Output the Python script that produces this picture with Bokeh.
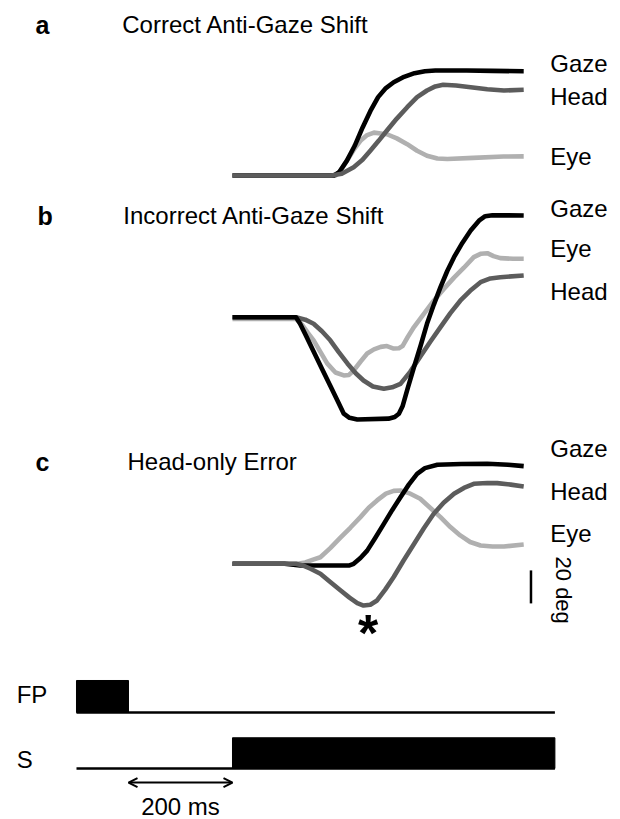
import math
from bokeh.plotting import figure
from bokeh.layouts import column
from bokeh.models import Range1d, Arrow, OpenHead, Label
from bokeh.embed import file_html
from bokeh.resources import INLINE

# ---------------- data (time in ms, angle in deg) ----------------
a_t_gaze = [200, 395, 405, 420, 435, 450, 465, 480, 495, 510, 530, 550, 570, 590, 650, 700, 760]
a_gaze = [0, 0, 2, 9, 18, 29, 39, 47.5, 53, 56.5, 59.8, 62, 63.2, 63.6, 63.6, 63.4, 63.2]
a_t_head = [200, 390, 410, 433, 450, 465, 481, 497, 516, 536, 555, 574, 590, 605, 630, 658, 690, 722, 760]
a_head = [0, 0, 1, 5, 9.5, 15, 21, 27.3, 34.5, 41.4, 47.5, 51.5, 54, 55, 54.5, 53.5, 52.3, 51.5, 52]
a_t_eye = [200, 398, 408, 420, 433, 446, 459, 472, 485, 497, 516, 536, 555, 574, 594, 613, 663, 721, 760]
a_eye = [0, 0, 3, 9, 15.5, 21, 24.5, 26, 25.5, 25, 22.5, 19, 15, 12, 10.3, 10, 10.7, 11.5, 11.6]

b_t_gaze = [200, 322, 330, 340, 356, 372, 388, 402, 414, 425, 440, 500, 512, 520, 527, 537, 549, 562,
            574, 587, 600, 613, 626, 642, 658, 674, 686, 700, 760]
b_gaze = [0, 0, -3.9, -10.4, -20.8, -31.2, -41.6, -50.7, -58.5, -61, -62, -61.5, -60.5, -58.5, -54, -43,
          -30.3, -17, -4, 7.5, 18.2, 28, 36.4, 45, 52.5, 58.5, 61.2, 61.8, 61.6]
b_t_eye = [200, 322, 335, 345, 356, 369, 382, 398, 414, 424, 433, 446, 459, 472, 485, 497, 510, 520, 527,
           537, 549, 568, 587, 606, 626, 645, 664, 678, 690, 702, 715, 740, 760]
b_eye = [-1, -1, -5, -9.5, -14, -21, -28, -33.5, -35.3, -35, -32.3, -27, -22, -19.5, -18, -17.5, -19, -18.8,
         -17.5, -12, -6, 2, 10, 17, 24, 30, 36.4, 38.5, 38.8, 37, 35.8, 35.4, 35.4]
b_t_head = [200, 322, 340, 356, 372, 388, 404, 421, 437, 452, 470, 491, 507, 523, 542, 561, 580, 600, 619,
            638, 657, 677, 696, 715, 760]
b_head = [0, 0, -1.5, -4, -8.5, -14, -21, -28, -34, -38.4, -42, -43.4, -42.5, -40.4, -33, -24, -15, -6, 2.5,
          10, 16, 21.2, 23.5, 24.2, 25.3]

c_t_gaze = [200, 300, 330, 425, 433, 446, 459, 475, 491, 507, 523, 539, 555, 570, 594, 640, 690, 730, 760]
c_gaze = [0, 0, -1, -1, 0, 3.5, 8, 16, 24.2, 32.5, 40.4, 48, 54.5, 58, 60, 60.5, 60.6, 60, 59.2]
c_t_eye = [200, 325, 340, 355, 369, 388, 408, 427, 446, 462, 478, 495, 510, 523, 542, 561, 580, 600, 619,
           638, 657, 677, 700, 722, 760]
c_eye = [0, 0, 0.8, 2.5, 4, 9.5, 16, 22, 28.3, 34, 38.4, 42.5, 44.2, 44.4, 42.5, 39.4, 34, 28.3, 22.3,
         17.2, 13.2, 11.1, 10.5, 10.5, 11.7]
c_t_head = [200, 322, 335, 350, 369, 388, 408, 425, 440, 452, 465, 478, 494, 510, 529, 549, 568, 587, 606,
            626, 645, 664, 690, 709, 735, 760]
c_head = [0, 0, -1, -3, -6, -11, -16.2, -20.5, -23.8, -25.3, -24.8, -22.2, -15.5, -8, 2, 12, 21.5, 30.3, 37,
          42.4, 46, 48.5, 49, 48.9, 48, 46.9]

# scale bar (deg) and the head-only error marker
scale_deg = 20
error_t = 461

# timeline events (ms)
trial_start, trial_end = -100, 820
fp_on = (-100, 0)
s_on = (200, 820)
gap_ms = (0, 200)

# ---------------- styling ----------------
FONT = "Liberation Sans"
C_GAZE, C_HEAD, C_EYE = "#000000", "#5c5c5c", "#b0b0b0"
LW = 4.6
TXT = "24px"

xr = Range1d(-246.15, 946.15)


def panel(h, y0, y1):
    p = figure(width=620, height=h, x_range=xr, y_range=Range1d(y0, y1),
               output_backend="svg", toolbar_location=None,
               x_axis_type=None, y_axis_type=None, min_border=0)
    p.grid.visible = False
    p.outline_line_color = None
    p.background_fill_color = "white"
    p.border_fill_color = "white"
    return p


def label(p, x, y, text, size=TXT, bold=False, align="left", baseline="middle", angle=0.0):
    p.add_layout(Label(x=x, y=y, text=text, text_font=FONT, text_font_size=size,
                       text_font_style="bold" if bold else "normal", text_color="black",
                       text_align=align, text_baseline=baseline, angle=angle))


def traces(p, order):
    for t, v, c in order:
        p.line(t, v, line_color=c, line_width=LW, line_join="round")


LX = 811  # label column (ms)

# panel a
pa = panel(190, -9.09, 106.06)
traces(pa, [(a_t_eye, a_eye, C_EYE), (a_t_gaze, a_gaze, C_GAZE), (a_t_head, a_head, C_HEAD)])
label(pa, -179, 91.3, "a", size="25px", bold=True)
label(pa, -12, 91.3, "Correct Anti-Gaze Shift")
label(pa, LX, 67.6, "Gaze")
label(pa, LX, 47.6, "Head")
label(pa, LX, 11.3, "Eye")

# panel b
pb = panel(240, -68.67, 76.79)
traces(pb, [(b_t_eye, b_eye, C_EYE), (b_t_head, b_head, C_HEAD), (b_t_gaze, b_gaze, C_GAZE)])
label(pb, -175, 61.6, "b", size="25px", bold=True)
label(pb, -10, 61.6, "Incorrect Anti-Gaze Shift")
label(pb, LX, 65.6, "Gaze")
label(pb, LX, 41.4, "Eye")
label(pb, LX, 15.3, "Head")

# panel c
pc = panel(238, -63.45, 80.79)
traces(pc, [(c_t_eye, c_eye, C_EYE), (c_t_gaze, c_gaze, C_GAZE), (c_t_head, c_head, C_HEAD)])
label(pc, -179, 62, "c", size="25px", bold=True)
label(pc, -2, 62, "Head-only Error")
label(pc, LX, 69.6, "Gaze")
label(pc, LX, 43.6, "Head")
label(pc, LX, 18.1, "Eye")
pc.line([774, 774], [-4, -4 - scale_deg], line_color="black", line_width=2.5)
label(pc, 836, 4.4, f"{scale_deg} deg", size="22px", baseline="alphabetic", angle=-math.pi / 2)
label(pc, error_t, -42.2, "*", size="52px", bold=True, align="center")

# timeline
pt = panel(151, -1.594, 3.125)
FP_ROW, S_ROW = 1.75, 0.0
pt.quad(left=[fp_on[0]], right=[fp_on[1]], bottom=[FP_ROW], top=[FP_ROW + 1],
        fill_color="black", line_color="black")
pt.quad(left=[s_on[0]], right=[s_on[1]], bottom=[S_ROW], top=[S_ROW + 0.96],
        fill_color="black", line_color="black")
pt.line([trial_start, trial_end], [FP_ROW, FP_ROW], line_color="black", line_width=2.5)
pt.line([trial_start, trial_end], [S_ROW, S_ROW], line_color="black", line_width=2.5)
pt.add_layout(Arrow(x_start=gap_ms[0], y_start=-0.44, x_end=gap_ms[1], y_end=-0.44,
                    line_color="black", line_width=2,
                    start=OpenHead(size=9, line_width=2, line_color="black"),
                    end=OpenHead(size=9, line_width=2, line_color="black")))
label(pt, (gap_ms[0] + gap_ms[1]) / 2, -1.19, f"{gap_ms[1] - gap_ms[0]} ms", align="center")
label(pt, -215, FP_ROW + 0.56, "FP")
label(pt, -215, S_ROW + 0.28, "S")

layout = column(pa, pb, pc, pt, spacing=0)
open("out.html", "w").write(file_html(layout, INLINE))
